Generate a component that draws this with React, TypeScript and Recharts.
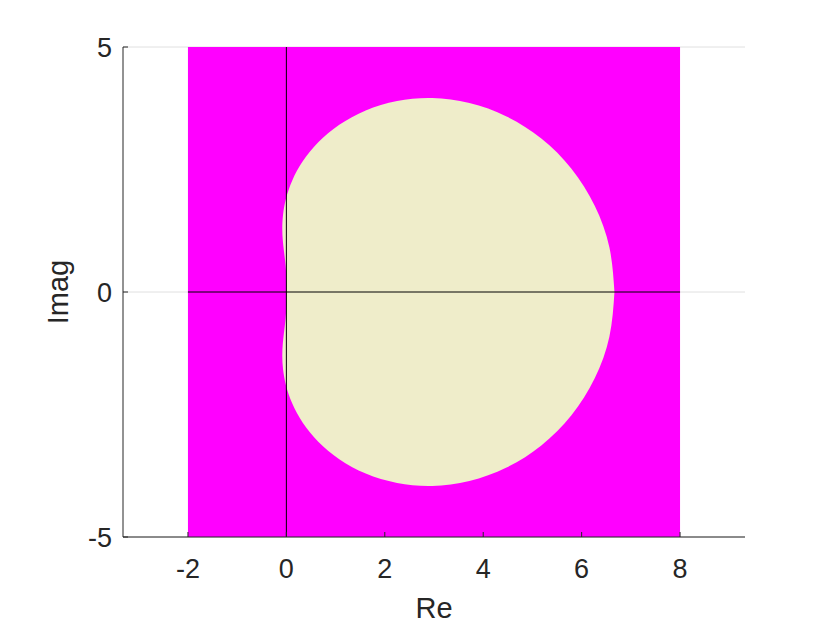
import React from 'react'
import { ComposedChart, Area, XAxis, YAxis, CartesianGrid, ReferenceArea, ReferenceLine, Label } from 'recharts'

// boundary of the cream region, upper half (lower half is the mirror image)
const boundaryRe = [
  0, 0, -0.001, -0.005, -0.015, -0.031, -0.052, -0.073, -0.083, -0.067, -0.006, 0.12, 0.333,
  0.648, 1.075, 1.613, 2.25, 2.963, 3.719, 4.474, 5.181, 5.793, 6.266, 6.565, 6.667,
]
const boundaryIm = [
  0, 0.131, 0.262, 0.395, 0.534, 0.685, 0.857, 1.059, 1.299, 1.583, 1.912, 2.278, 2.667,
  3.055, 3.412, 3.705, 3.897, 3.957, 3.857, 3.583, 3.132, 2.517, 1.762, 0.907, 0,
]
const xTicks = [-2, 0, 2, 4, 6, 8]
const yTicks = [-5, 0, 5]
const box = { x1: -2, x2: 8, y1: -5, y2: 5 }

const data = boundaryRe.map((re, i) => ({ re, span: [-boundaryIm[i], boundaryIm[i]] }))

const font = '"Liberation Sans", Arial, sans-serif'
const ink = '#262626'

export default function App() {
  return (
    <div style={{ position: 'absolute', left: 0, top: 0, background: '#fff' }}>
      <ComposedChart width={840} height={630} data={data} margin={{ top: 47, right: 95, bottom: 0, left: 0 }}>
        <CartesianGrid vertical={false} stroke="#e0e0e0" />
        <XAxis
          type="number"
          dataKey="re"
          domain={[-3.32, 9.32]}
          allowDataOverflow
          ticks={xTicks}
          height={93}
          tickSize={-5}
          tickMargin={27}
          stroke={ink}
          tick={{ fill: ink, fontSize: 27, fontFamily: font }}
        >
          <Label value="Re" position="insideBottom" offset={12} style={{ fill: ink, fontSize: 29, fontFamily: font }} />
        </XAxis>
        <YAxis
          type="number"
          domain={[-5, 5]}
          ticks={yTicks}
          width={123}
          tickSize={-5}
          tickMargin={16}
          stroke={ink}
          tick={{ fill: ink, fontSize: 27, fontFamily: font }}
        >
          <Label
            value="Imag"
            angle={-90}
            position="insideLeft"
            offset={58}
            style={{ fill: ink, fontSize: 29, fontFamily: font, textAnchor: 'middle' }}
          />
        </YAxis>
        <ReferenceArea {...box} fill="#ff00ff" fillOpacity={1} stroke="none" />
        <Area
          dataKey="span"
          type="natural"
          fill="#efedca"
          fillOpacity={1}
          stroke="none"
          isAnimationActive={false}
          activeDot={false}
        />
        <ReferenceLine x={0} stroke="#000" strokeWidth={1} />
        <ReferenceLine segment={[{ x: box.x1, y: 0 }, { x: box.x2, y: 0 }]} stroke="#000" strokeWidth={1} />
      </ComposedChart>
    </div>
  )
}
